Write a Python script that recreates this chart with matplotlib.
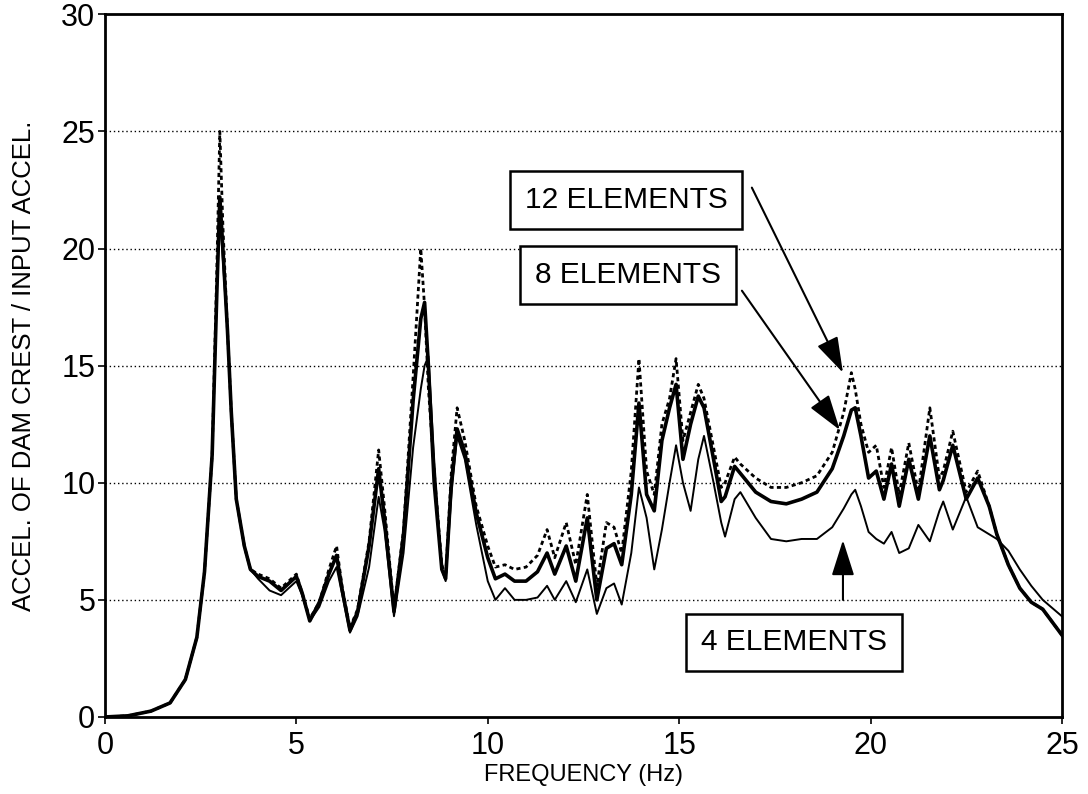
import numpy as np
import matplotlib
matplotlib.use("Agg")
from matplotlib import pyplot as plt

plt.rcParams['font.family'] = ['Liberation Sans', 'DejaVu Sans']

# frequency (Hz) and crest/input acceleration ratio for each mesh
freq = [0.0, 0.6, 1.2, 1.7, 2.1, 2.4, 2.6, 2.8, 2.92, 3.0, 3.08, 3.2, 3.3, 3.43,
        3.64, 3.8, 4.0, 4.3, 4.6, 4.8, 5.0, 5.15, 5.35, 5.6, 5.85, 6.05, 6.2,
        6.4, 6.6, 6.9, 7.15, 7.3, 7.55, 7.8, 8.05, 8.25, 8.35, 8.45, 8.6, 8.8,
        8.9, 9.05, 9.2, 9.4, 9.7, 10.0, 10.2, 10.45, 10.7, 11.0, 11.3, 11.55,
        11.75, 12.05, 12.3, 12.6, 12.85, 13.1, 13.3, 13.5, 13.75, 13.95, 14.15,
        14.35, 14.55, 14.75, 14.92, 15.1, 15.3, 15.5, 15.65, 15.9, 16.1, 16.2,
        16.45, 16.6, 17.0, 17.4, 17.8, 18.2, 18.6, 19.0, 19.3, 19.5, 19.6,
        19.75, 19.95, 20.15, 20.35, 20.55, 20.75, 21.0, 21.25, 21.55, 21.8,
        21.9, 22.15, 22.5, 22.8, 23.1, 23.3, 23.6, 23.9, 24.2, 24.5, 25.0]

el12 = [0.0, 0.05, 0.25, 0.6, 1.6, 3.4, 6.2, 11.2, 19.0, 25.0, 21.0, 16.5, 13.0, 9.3,
        7.3, 6.3, 6.1, 5.9, 5.5, 5.8, 6.1, 5.3, 4.2, 4.9, 6.3, 7.3, 5.5,
        3.8, 4.6, 7.5, 11.4, 9.0, 4.6, 8.0, 14.5, 20.0, 17.5, 14.0, 10.5, 6.5,
        6.0, 10.5, 13.2, 11.8, 9.0, 7.3, 6.4, 6.5, 6.3, 6.4, 6.9, 8.0,
        6.8, 8.3, 6.5, 9.5, 5.6, 8.3, 8.1, 7.0, 10.5, 15.3, 10.5,
        9.5, 12.5, 13.6, 15.3, 11.8, 13.0, 14.2, 13.6, 11.5, 9.8, 10.0,
        11.1, 10.8, 10.2, 9.8, 9.8, 10.0, 10.3, 11.3, 13.0, 14.7, 14.0,
        12.5, 11.3, 11.6, 9.8, 11.5, 9.5, 11.7, 9.6, 13.2, 10.2,
        10.5, 12.2, 9.6, 10.5, 9.0, 7.8, 6.5, 5.5, 4.9, 4.6, 3.5]

el8 = [0.0, 0.05, 0.25, 0.6, 1.6, 3.4, 6.2, 11.2, 18.0, 22.2, 20.0, 16.5, 13.0, 9.3,
       7.3, 6.3, 6.0, 5.8, 5.4, 5.7, 6.0, 5.3, 4.1, 4.9, 6.1, 6.9, 5.4,
       3.7, 4.5, 7.3, 10.6, 8.5, 4.5, 7.8, 13.5, 17.0, 17.7, 15.0, 10.0, 6.3,
       5.9, 10.0, 12.3, 11.3, 8.7, 6.8, 5.9, 6.1, 5.8, 5.8, 6.2, 7.0,
       6.1, 7.3, 5.8, 8.5, 5.0, 7.2, 7.4, 6.5, 9.5, 13.4, 9.5,
       8.8, 11.8, 13.2, 14.2, 11.0, 12.5, 13.7, 13.2, 11.0, 9.2, 9.4,
       10.7, 10.4, 9.6, 9.2, 9.1, 9.3, 9.6, 10.6, 12.0, 13.1, 13.2,
       12.0, 10.2, 10.5, 9.3, 10.8, 9.0, 11.0, 9.3, 12.0, 9.7,
       10.1, 11.6, 9.3, 10.2, 9.0, 7.8, 6.5, 5.5, 4.9, 4.6, 3.5]

el4 = [0.0, 0.05, 0.25, 0.6, 1.6, 3.4, 6.2, 11.2, 18.0, 21.5, 19.5, 16.5, 13.0, 9.3,
       7.3, 6.3, 5.9, 5.4, 5.2, 5.5, 5.8, 5.2, 4.1, 4.7, 5.8, 6.4, 5.2,
       3.6, 4.3, 6.4, 9.4, 8.0, 4.3, 7.0, 11.5, 14.0, 15.0, 15.4, 11.0, 6.3,
       5.8, 9.5, 12.0, 11.0, 8.2, 5.8, 5.0, 5.5, 5.0, 5.0, 5.1, 5.6,
       5.0, 5.8, 4.9, 6.3, 4.4, 5.5, 5.7, 4.8, 7.0, 9.8, 8.5,
       6.3, 8.0, 10.0, 11.6, 10.0, 8.8, 11.0, 12.0, 10.0, 8.3, 7.7,
       9.3, 9.6, 8.5, 7.6, 7.5, 7.6, 7.6, 8.1, 8.9, 9.5, 9.7,
       9.0, 7.9, 7.6, 7.4, 7.9, 7.0, 7.2, 8.2, 7.5, 8.8,
       9.2, 8.0, 9.4, 8.1, 7.8, 7.6, 7.1, 6.3, 5.6, 5.0, 4.3]

fig = plt.figure(figsize=(10.88, 7.94), dpi=100)
ax = fig.add_axes([0.0965, 0.097, 0.8795, 0.885])

ax.plot(freq, el4, color="black", lw=1.4)
ax.plot(freq, el8, color="black", lw=2.6)
ax.plot(freq, el12, color="black", lw=2.0, linestyle=(0, (1.5, 1.2)))

ax.set_xlim(0, 25)
ax.set_ylim(0, 30)
ax.set_xticks([0, 5, 10, 15, 20, 25])
ax.set_yticks([0, 5, 10, 15, 20, 25, 30])
for yy in [5, 10, 15, 20, 25]:
    ax.axhline(yy, color="black", lw=1.0, linestyle=(0, (1, 2)), zorder=0)

for s in ax.spines.values():
    s.set_linewidth(2)
ax.tick_params(axis="y", direction="out", length=5, width=1.2, labelsize=22, pad=2)
ax.tick_params(axis="x", direction="out", length=5, width=1.2, labelsize=22, pad=5)

ax.set_xlabel("FREQUENCY (Hz)", fontsize=17, labelpad=2)
ax.set_ylabel("ACCEL. OF DAM CREST / INPUT ACCEL.", fontsize=18.5, labelpad=18)

box = dict(boxstyle="square,pad=0.5", fc="white", ec="black", lw=1.8)
arrow = dict(arrowstyle="-|>,head_length=1.1,head_width=0.35", mutation_scale=20,
             color="black", lw=1.5, shrinkA=0, shrinkB=0)

ax.annotate("", xy=(19.28, 14.7), xytext=(16.9, 22.6), arrowprops=arrow)
ax.annotate("", xy=(19.2, 12.25), xytext=(16.64, 18.2), arrowprops=arrow)
ax.annotate("", xy=(19.28, 7.55), xytext=(19.28, 5.0), arrowprops=arrow)

ax.text(13.61, 22.07, "12 ELEMENTS", fontsize=21.5, ha="center", va="center", bbox=box)
ax.text(13.66, 18.86, "8 ELEMENTS", fontsize=21.5, ha="center", va="center", bbox=box)
ax.text(18.01, 3.18, "4 ELEMENTS", fontsize=21.5, ha="center", va="center", bbox=box)

fig.savefig("out.png", dpi=100)
